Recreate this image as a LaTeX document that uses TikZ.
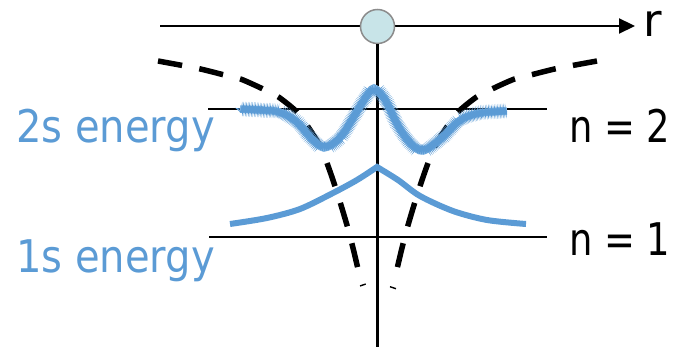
\documentclass[tikz,border=0pt]{standalone}
\usepackage{fontspec}
\setmainfont{DejaVu Sans}
\usetikzlibrary{arrows.meta,decorations.pathmorphing}
\definecolor{eblue}{RGB}{91,155,213}
\definecolor{eblueL}{RGB}{130,182,228}
\definecolor{nucfill}{RGB}{200,228,232}
\definecolor{nucdraw}{RGB}{140,140,140}
\begin{document}
\begin{tikzpicture}[x=1pt,y=-1pt,
  axisline/.style={line width=2.2pt},
  levelline/.style={line width=2.2pt},
  potline/.style={line width=5.5pt, dash pattern=on 24.5pt off 17.5pt},
  onesline/.style={eblue, line width=6pt},
  twosline/.style={eblueL, line width=7.5pt,
    postaction={draw, eblue, line width=1pt, decorate,
      decoration={zigzag, segment length=1.5pt, amplitude=3.2pt}}},
  lbl/.style={inner sep=0pt, anchor=base west, font=\fontsize{45}{54}\selectfont},
]
\useasboundingbox (0,0) rectangle (679,347);

% axes
\coordinate (axL) at (160,26);
\coordinate (axR) at (635,26);
\coordinate (axB) at (377.5,347);
\draw[axisline,-{Triangle[length=16pt,width=15pt]}] (axL) -- (axR);
\node[circle, draw=nucdraw, fill=nucfill, line width=1.5pt, minimum size=34pt, inner sep=0pt] (nuc) at (377.5,26.5) {};
\draw[axisline] (nuc.south) -- (axB);

% energy levels
\coordinate (n2L) at (208,109);
\coordinate (n2R) at (547,109);
\coordinate (n1L) at (209,237);
\coordinate (n1R) at (547,237);
\draw[levelline] (n2L) -- (n2R);
\draw[levelline] (n1L) -- (n1R);

% potential (dashed)
\draw[potline] plot[smooth] coordinates {(158,61) (182.5,65.5) (200.5,69) (222.5,74.5) (240.5,79) (263,89) (278.5,97) (297,112) (307.5,126) (320.5,147) (329.5,170) (338.5,197) (347.5,227) (353.5,250) (358,269) (360,277)};
\draw[potline] plot[smooth] coordinates {(597,61) (572.5,65.5) (554.5,69) (532.5,74.5) (514.5,79) (492,89) (476.5,97) (458,112) (447.5,126) (434.5,147) (425.5,170) (416.5,197) (407.5,227) (401.5,250) (397,269) (395,277)};
\draw[line width=1.4pt] (360,286) -- (365.7,284);
\draw[line width=1.4pt] (390,286.7) -- (396,288.7);

% 1s wavefunction
\draw[onesline] plot[smooth] coordinates {(230,224) (267,218) (300,209) (333,193) (357,180) (377,167)}
  -- plot[smooth] coordinates {(377,167) (398,180) (420,196) (453,211) (487,220) (526,224)};

% 2s wavefunction
\draw[twosline] plot[smooth] coordinates {(240,109) (260,110) (280,112) (297,122) (310,137) (324,148) (340,138) (353,118) (364,100) (374,88) (386,101) (397,124) (410,143) (423,151) (443,137) (460,120) (480,113) (507,111)};

% labels
\node[lbl, text=eblue] (l2s) at (16,143) {\scalebox{0.89}[1]{2s energy}};
\node[lbl, text=eblue] (l1s) at (16,272) {\scalebox{0.89}[1]{1s energy}};
\node[lbl] (ln2) at (569,143) {\scalebox{0.82}[1]{n = 2}};
\node[lbl] (ln1) at (569,255) {\scalebox{0.82}[1]{n = 1}};
\node[lbl] (lr) at (643,37) {r};
\end{tikzpicture}
\end{document}
